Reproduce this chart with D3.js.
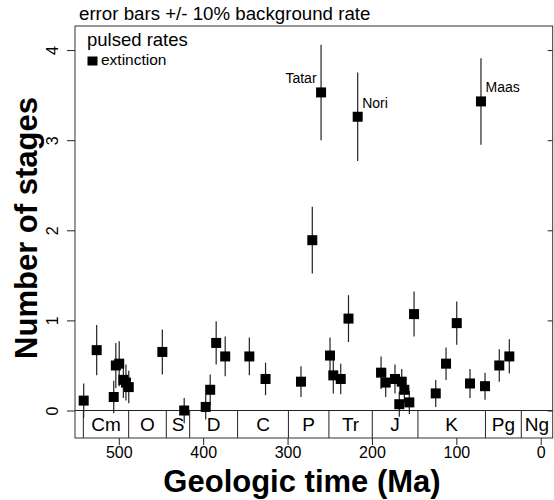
<!DOCTYPE html>
<html>
<head>
<meta charset="utf-8">
<script src="https://cdn.jsdelivr.net/npm/d3@7"></script>
<style>
  body { margin: 0; background: #fff; }
  svg { display: block; font-family: "Liberation Sans", Arial, Helvetica, sans-serif; }
</style>
</head>
<body>
<div id="chart"></div>
<script>
// ages (Ma) of stages with pulsed extinction, rate estimate, and half-width of the error bar
const ages = [541.6, 526.2, 506, 503.5, 499.5, 494.6, 491.5, 488.2, 448.4, 422.5,
  397, 391.7, 384.6, 373.9, 345.3, 326.1, 284.1, 270.7, 260.3, 249.7,
  245.8, 237, 227.8, 216.9, 189.2, 183.7, 172.7, 167.6, 164.7, 161.6,
  155.7, 150.1, 124.4, 112.2, 99.5, 83.8, 70.8, 66, 49.1, 37.2];
const rates = [0.11, 0.67, 0.15, 0.50, 0.52, 0.34, 0.31, 0.26, 0.65, 0.00,
  0.04, 0.23, 0.75, 0.60, 0.60, 0.35, 0.32, 1.89, 3.53, 0.61,
  0.39, 0.35, 1.02, 3.26, 0.42, 0.31, 0.35, 0.07, 0.32, 0.23,
  0.09, 1.07, 0.19, 0.52, 0.97, 0.30, 3.43, 0.27, 0.50, 0.60];
const errs = [0.19, 0.28, 0.18, 0.25, 0.25, 0.20, 0.20, 0.18, 0.25, 0.14,
  0.14, 0.17, 0.24, 0.22, 0.21, 0.18, 0.17, 0.37, 0.53, 0.20,
  0.20, 0.17, 0.26, 0.49, 0.18, 0.16, 0.16, 0.14, 0.14, 0.14,
  0.13, 0.25, 0.15, 0.18, 0.24, 0.16, 0.48, 0.15, 0.18, 0.19];

// named peaks
const peakNames = ['Tatar', 'Nori', 'Maas'];
const peakAges = [260.3, 216.9, 70.8];
const peakRates = [3.53, 3.26, 3.43];

// geologic periods (start ages, GTS2004)
const periodNames = ['Cm', 'O', 'S', 'D', 'C', 'P', 'Tr', 'J', 'K', 'Pg', 'Ng'];
const periodStarts = [542, 488.3, 443.7, 416, 359.2, 299, 251, 199.6, 145.5, 65.5, 23.03];

const xTicks = [500, 400, 300, 200, 100, 0];
const yTicks = [0, 1, 2, 3, 4];

const W = 554, H = 500;
const box = {left: 75, right: 552.7, top: 26, bottom: 438};

const svg = d3.select('#chart').append('svg')
  .attr('width', W).attr('height', H);

const x = d3.scaleLinear().domain([551.9, -14.2]).range([box.left, box.right]);
const y = d3.scaleLinear().domain([-0.305, 4.267]).range([box.bottom, box.top]);

const ink = '#222';

// title
svg.append('text')
  .attr('x', 79).attr('y', 20)
  .attr('font-size', 18.7)
  .text('error bars +/- 10% background rate');

// x axis
const xAxis = svg.append('g')
  .attr('transform', `translate(0,${box.bottom})`)
  .call(d3.axisBottom(x).tickValues(xTicks).tickSize(7).tickPadding(2).tickFormat(d3.format('d')));
xAxis.select('.domain').remove();
xAxis.selectAll('line').attr('stroke', ink);
xAxis.selectAll('text').attr('font-size', 16).attr('fill', '#000')
  .attr('font-family', null);

// y axis (left), labels rotated
const yAxis = svg.append('g')
  .attr('transform', `translate(${box.left},0)`)
  .call(d3.axisLeft(y).tickValues(yTicks).tickSize(8).tickFormat(d3.format('d')));
yAxis.select('.domain').remove();
yAxis.selectAll('line').attr('stroke', ink);
yAxis.selectAll('text')
  .attr('font-size', 16).attr('fill', '#000').attr('font-family', null)
  .attr('x', null).attr('dy', null)
  .attr('text-anchor', 'middle')
  .attr('transform', 'translate(-17.5,0) rotate(-90)');

// right axis ticks, inward
const rAxis = svg.append('g')
  .attr('transform', `translate(${box.right},0)`)
  .call(d3.axisLeft(y).tickValues(yTicks).tickSize(5).tickFormat(''));
rAxis.select('.domain').remove();
rAxis.selectAll('line').attr('stroke', ink);

// period bar
const periods = periodNames.map((name, i) => ({
  name,
  start: periodStarts[i],
  end: i + 1 < periodStarts.length ? periodStarts[i + 1] : x.domain()[1]
}));
svg.append('line')
  .attr('x1', box.left).attr('x2', box.right)
  .attr('y1', y(0)).attr('y2', y(0))
  .attr('stroke', ink).attr('stroke-width', 1);
svg.append('g').selectAll('line')
  .data(periodStarts)
  .join('line')
  .attr('x1', d => x(d)).attr('x2', d => x(d))
  .attr('y1', y(0)).attr('y2', box.bottom)
  .attr('stroke', ink).attr('stroke-width', 1);
svg.append('g').selectAll('text')
  .data(periods)
  .join('text')
  .attr('x', d => (x(d.start) + x(d.end)) / 2)
  .attr('y', (y(0) + box.bottom) / 2 + 7)
  .attr('text-anchor', 'middle')
  .attr('font-size', 19)
  .text(d => d.name);

// error bars
svg.append('g').selectAll('line')
  .data(ages)
  .join('line')
  .attr('x1', d => x(d)).attr('x2', d => x(d))
  .attr('y1', (d, i) => y(rates[i] - errs[i]))
  .attr('y2', (d, i) => y(rates[i] + errs[i]))
  .attr('stroke', ink).attr('stroke-width', 1.2);

// points
const s = 10;
svg.append('g').selectAll('rect')
  .data(ages)
  .join('rect')
  .attr('x', d => x(d) - s / 2)
  .attr('y', (d, i) => y(rates[i]) - s / 2)
  .attr('width', s).attr('height', s)
  .attr('fill', '#000');

// peak labels
svg.append('g').selectAll('text')
  .data(peakNames)
  .join('text')
  .attr('x', (d, i) => x(peakAges[i]) + (i === 0 ? -4.5 : 4.5))
  .attr('y', (d, i) => y(peakRates[i]) - 9)
  .attr('text-anchor', (d, i) => i === 0 ? 'end' : 'start')
  .attr('font-size', 14)
  .text(d => d);

// legend
svg.append('text')
  .attr('x', 87).attr('y', 46)
  .attr('font-size', 18.5)
  .text('pulsed rates');
svg.append('rect')
  .attr('x', 87.5).attr('y', 56.5).attr('width', 10).attr('height', 9)
  .attr('fill', '#000');
svg.append('text')
  .attr('x', 101).attr('y', 65)
  .attr('font-size', 15.5)
  .text('extinction');

// plot box
svg.append('rect')
  .attr('x', box.left).attr('y', box.top)
  .attr('width', box.right - box.left).attr('height', box.bottom - box.top)
  .attr('fill', 'none').attr('stroke', '#333').attr('stroke-width', 1);

// axis titles
svg.append('text')
  .attr('x', 302).attr('y', 492)
  .attr('text-anchor', 'middle')
  .attr('font-size', 31).attr('font-weight', 'bold')
  .text('Geologic time (Ma)');
svg.append('text')
  .attr('transform', 'translate(37,228) rotate(-90)')
  .attr('text-anchor', 'middle')
  .attr('font-size', 31).attr('font-weight', 'bold')
  .text('Number of stages');
</script>
</body>
</html>
